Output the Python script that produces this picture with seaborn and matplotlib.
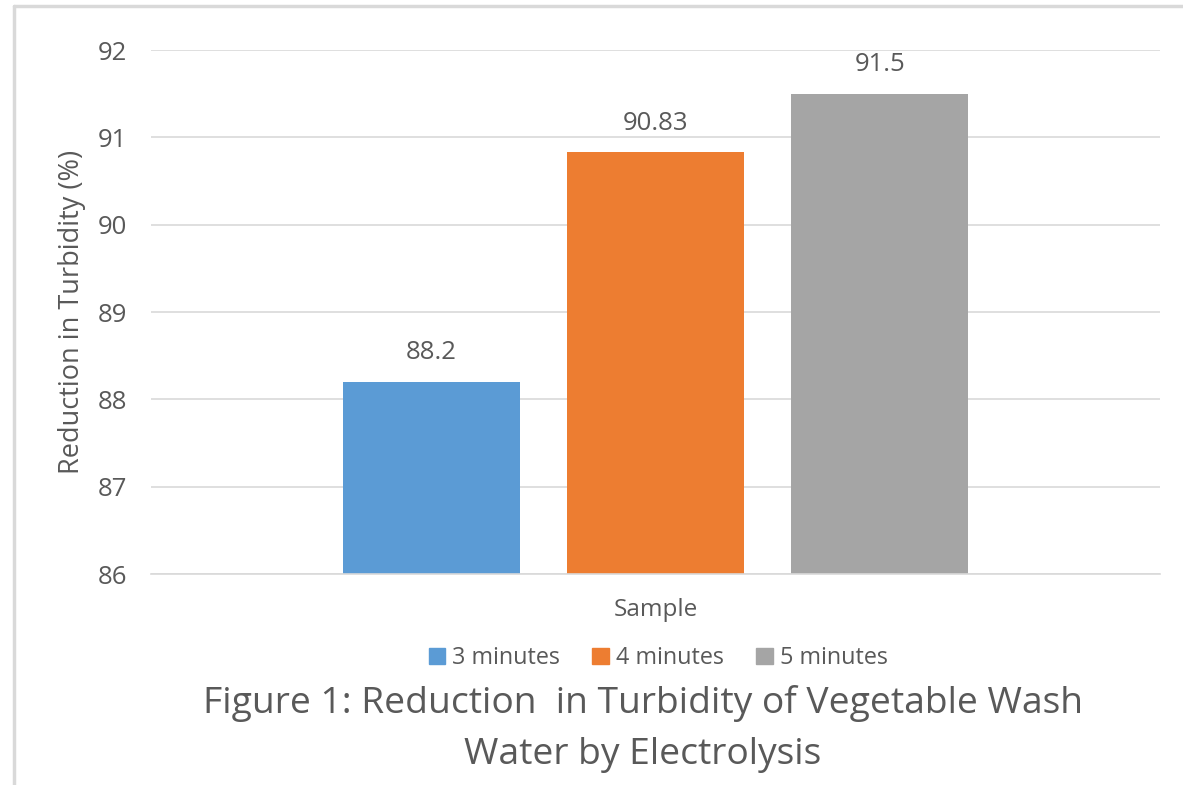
import matplotlib
matplotlib.use("Agg")
import matplotlib.pyplot as plt
import seaborn as sns
import pandas as pd
from matplotlib.lines import Line2D

categories = ["Sample", "Sample", "Sample"]
durations = ["3 minutes", "4 minutes", "5 minutes"]
reductions = [88.2, 90.83, 91.5]
yticks = [86, 87, 88, 89, 90, 91, 92]
colors = ["#5B9BD5", "#ED7D31", "#A5A5A5"]

sns.set_theme(style="white")
plt.rcParams['font.family'] = ['Open Sans', 'DejaVu Sans']
txt = "#595959"

df = pd.DataFrame({"cat": categories, "dur": durations, "val": reductions})

fig = plt.figure(figsize=(11.83, 7.85), dpi=100)
ax = fig.add_axes([151/1183, 1-574/785, (1160-151)/1183, (574-50)/785])

sns.barplot(data=df, x="cat", y="val", hue="dur", palette=colors, width=0.667,
            gap=0.21, ax=ax, legend=False, saturation=1, linewidth=0)
ax.set_ylim(86, 92)
ax.set_xlim(-0.5, 0.5)
ax.set_yticks(yticks)
ax.set_yticklabels([str(t) for t in yticks], fontsize=18.5, color=txt)
ax.tick_params(axis='y', length=0, pad=17)
ax.tick_params(axis='x', length=0, pad=17, labelsize=17.5, labelcolor=txt)
ax.grid(axis='y', color="#d9d9d9", linewidth=1.2)
ax.set_axisbelow(True)
for s in ["top", "right", "left"]:
    ax.spines[s].set_visible(False)
ax.spines["bottom"].set_color("#d9d9d9")
ax.spines["bottom"].set_linewidth(1.2)
ax.set_xlabel("")
ax.set_ylabel("")
fig.text(72/1183, 1-312/785, "Reduction in Turbidity (%)", rotation=90,
         ha="center", va="center", fontsize=19.5, color=txt)

for cont in ax.containers:
    ax.bar_label(cont, labels=[f"{v:g}" for v in cont.datavalues], padding=12,
                 fontsize=18.5, color=txt)

handles = [plt.Rectangle((0, 0), 1, 1, color=c) for c in colors]
fig.legend(handles, durations, loc="center", bbox_to_anchor=(658/1183, 1-658/785),
           ncol=3, frameon=False, fontsize=16.8, labelcolor=txt, handlelength=0.7,
           handleheight=0.7, handletextpad=0.3, columnspacing=1.4)

fig.text(643/1183, 1-703/785, "Figure 1: Reduction  in Turbidity of Vegetable Wash",
         ha="center", va="center", fontsize=26.8, color=txt)
fig.text(643/1183, 1-755/785, "Water by Electrolysis",
         ha="center", va="center", fontsize=26.8, color=txt)

fig.add_artist(Line2D([14/1183, 1], [1-6/785, 1-6/785], color="#d9d9d9", linewidth=2.5,
                      transform=fig.transFigure))
fig.add_artist(Line2D([14/1183, 14/1183], [0, 1-6/785], color="#d9d9d9", linewidth=2.5,
                      transform=fig.transFigure))

fig.savefig("out.png", dpi=100)
